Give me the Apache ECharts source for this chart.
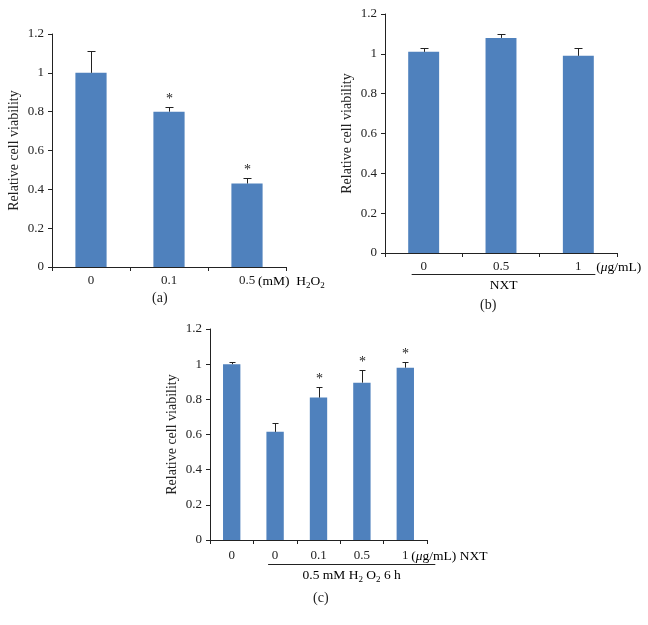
<!DOCTYPE html>
<html><head><meta charset="utf-8">
<script src="https://cdn.jsdelivr.net/npm/echarts/dist/echarts.min.js"></script>
<style>html,body{margin:0;padding:0;background:#fff}#c{width:648px;height:625px}</style>
</head><body><div id="c"></div>
<script>
// ---- data ----
const yTicks = [0, 0.2, 0.4, 0.6, 0.8, 1, 1.2];
const catsA = ['0', '0.1', '0.5'];
const valsA = [1.0, 0.80, 0.43];
const errA = [0.115, 0.025, 0.03];
const starsA = ['', '*', '*'];
const catsB = ['0', '0.5', '1'];
const valsB = [1.01, 1.08, 0.99];
const errB = [0.02, 0.02, 0.04];
const starsB = ['', '', ''];
const catsC = ['0', '0', '0.1', '0.5', '1'];
const valsC = [1.0, 0.615, 0.81, 0.895, 0.98];
const errC = [0.01, 0.05, 0.06, 0.07, 0.03];
const starsC = ['', '', '*', '*', '*'];
const yName = 'Relative cell viability';
const unitA = '{n|(mM)  H}{s|2}{n|O}{s|2}';
const unitB = '{n|(}{i|μ}{n|g/mL)}';
const unitC = '{n|(}{i|μ}{n|g/mL) NXT}';
const groupB = '{n|NXT}';
const groupC = '{n|0.5 mM H}{s|2}{n| O}{s|2}{n| 6 h}';
const captions = ['(a)', '(b)', '(c)'];

// ---- styling ----
const FONT = '"Liberation Serif", "Times New Roman", serif';
const INK = '#222';
const BAR = '#4F81BD';
const rich = {
  n: {fontFamily: FONT, fontSize: 13.5, color: INK, lineHeight: 18, verticalAlign: 'middle'},
  i: {fontFamily: FONT, fontSize: 13.5, color: INK, fontStyle: 'italic', lineHeight: 18, verticalAlign: 'middle'},
  s: {fontFamily: FONT, fontSize: 9, color: INK, lineHeight: 18, verticalAlign: 'bottom'}
};

const grids = [
  {left: 52, top: 34, width: 234, height: 233},
  {left: 385, top: 14, width: 232, height: 239},
  {left: 210, top: 329, width: 217, height: 211}
];
const labelMargins = [7, 7, 9];

function xAxis(gi, cats) {
  return {
    type: 'category', gridIndex: gi, data: cats,
    axisLine: {lineStyle: {color: INK, width: 1}},
    axisTick: {show: true, length: 4, lineStyle: {color: INK}},
    axisLabel: {fontFamily: FONT, fontSize: 13, color: INK, margin: labelMargins[gi]},
    splitLine: {show: false}
  };
}
function yAxis(gi) {
  return {
    type: 'value', gridIndex: gi, min: yTicks[0], max: yTicks[yTicks.length - 1],
    interval: yTicks[1] - yTicks[0],
    name: yName, nameLocation: 'middle', nameGap: 31, nameRotate: 90,
    nameTextStyle: {fontFamily: FONT, fontSize: 14, color: INK},
    axisLine: {show: true, lineStyle: {color: INK, width: 1}},
    axisTick: {show: true, length: 4, lineStyle: {color: INK}},
    axisLabel: {fontFamily: FONT, fontSize: 13, color: INK, margin: 8},
    splitLine: {show: false}
  };
}
function barSeries(gi, vals) {
  return {
    type: 'bar', xAxisIndex: gi, yAxisIndex: gi, data: vals, barWidth: '40%',
    itemStyle: {color: BAR}, silent: true, animation: false
  };
}
function errSeries(gi, vals, errs, stars, cap) {
  return {
    type: 'custom', xAxisIndex: gi, yAxisIndex: gi, z: 5, silent: true, clip: false,
    animation: false,
    data: vals.map((v, i) => [i, v, v + errs[i]]),
    renderItem(params, api) {
      const i = api.value(0);
      const base = api.coord([i, api.value(1)]);
      const top = api.coord([i, api.value(2)]);
      const x = Math.round(base[0]) + 0.5;
      const yt = Math.round(top[1]) + 0.5;
      const ch = [
        {type: 'line', shape: {x1: x, y1: base[1], x2: x, y2: yt}, style: {stroke: INK, lineWidth: 1}},
        {type: 'line', shape: {x1: x - cap / 2, y1: yt, x2: x + cap / 2, y2: yt}, style: {stroke: INK, lineWidth: 1}}
      ];
      const s = stars[params.dataIndex];
      if (s) ch.push({type: 'text', style: {text: s, x: x, y: yt - 1, align: 'center', verticalAlign: 'bottom',
        font: '14px ' + FONT, fill: INK}});
      return {type: 'group', children: ch};
    }
  };
}
function annoSeries(gi, cfg) {
  return {
    type: 'custom', xAxisIndex: gi, yAxisIndex: gi, silent: true, clip: false, animation: false,
    data: [[0, 0]],
    renderItem(params, api) {
      const p = api.coord([cfg.unitCat, 0]);
      const ch = [{type: 'text', style: {text: cfg.unit, rich: rich, x: p[0] + cfg.unitDx, y: p[1] + cfg.labelDy,
        align: 'left', verticalAlign: 'middle'}}];
      if (cfg.group) {
        const g = cfg.group;
        const p0 = api.coord([g.from, 0]), p1 = api.coord([g.to, 0]);
        const x0 = p0[0] - g.padL, x1 = p1[0] + g.padR, y = Math.round(p0[1] + g.lineDy) + 0.5;
        ch.push({type: 'line', shape: {x1: x0, y1: y, x2: x1, y2: y}, style: {stroke: INK, lineWidth: 1}});
        ch.push({type: 'text', style: {text: g.text, rich: rich, x: (x0 + x1) / 2, y: y + g.textDy,
          align: 'center', verticalAlign: 'middle'}});
      }
      return {type: 'group', children: ch};
    }
  };
}

const chart = echarts.init(document.getElementById('c'), null, {renderer: 'canvas'});
chart.setOption({
  animation: false,
  backgroundColor: '#fff',
  grid: grids,
  xAxis: [xAxis(0, catsA), xAxis(1, catsB), xAxis(2, catsC)],
  yAxis: [yAxis(0), yAxis(1), yAxis(2)],
  series: [
    barSeries(0, valsA), errSeries(0, valsA, errA, starsA, 8),
    annoSeries(0, {unit: unitA, unitCat: 2, unitDx: 11, labelDy: 14}),
    barSeries(1, valsB), errSeries(1, valsB, errB, starsB, 8),
    annoSeries(1, {unit: unitB, unitCat: 2, unitDx: 18, labelDy: 14,
      group: {text: groupB, from: 0, to: 2, padL: 12, padR: 17, lineDy: 21, textDy: 11}}),
    barSeries(2, valsC), errSeries(2, valsC, errC, starsC, 6),
    annoSeries(2, {unit: unitC, unitCat: 4, unitDx: 6, labelDy: 16,
      group: {text: groupC, from: 1, to: 4, padL: 7, padR: 30, lineDy: 24, textDy: 11}})
  ],
  graphic: [
    {type: 'text', left: 152, top: 291, style: {text: captions[0], font: '14px ' + FONT, fill: INK}},
    {type: 'text', left: 480, top: 298, style: {text: captions[1], font: '14px ' + FONT, fill: INK}},
    {type: 'text', left: 313, top: 591, style: {text: captions[2], font: '14px ' + FONT, fill: INK}}
  ]
});
</script></body></html>
